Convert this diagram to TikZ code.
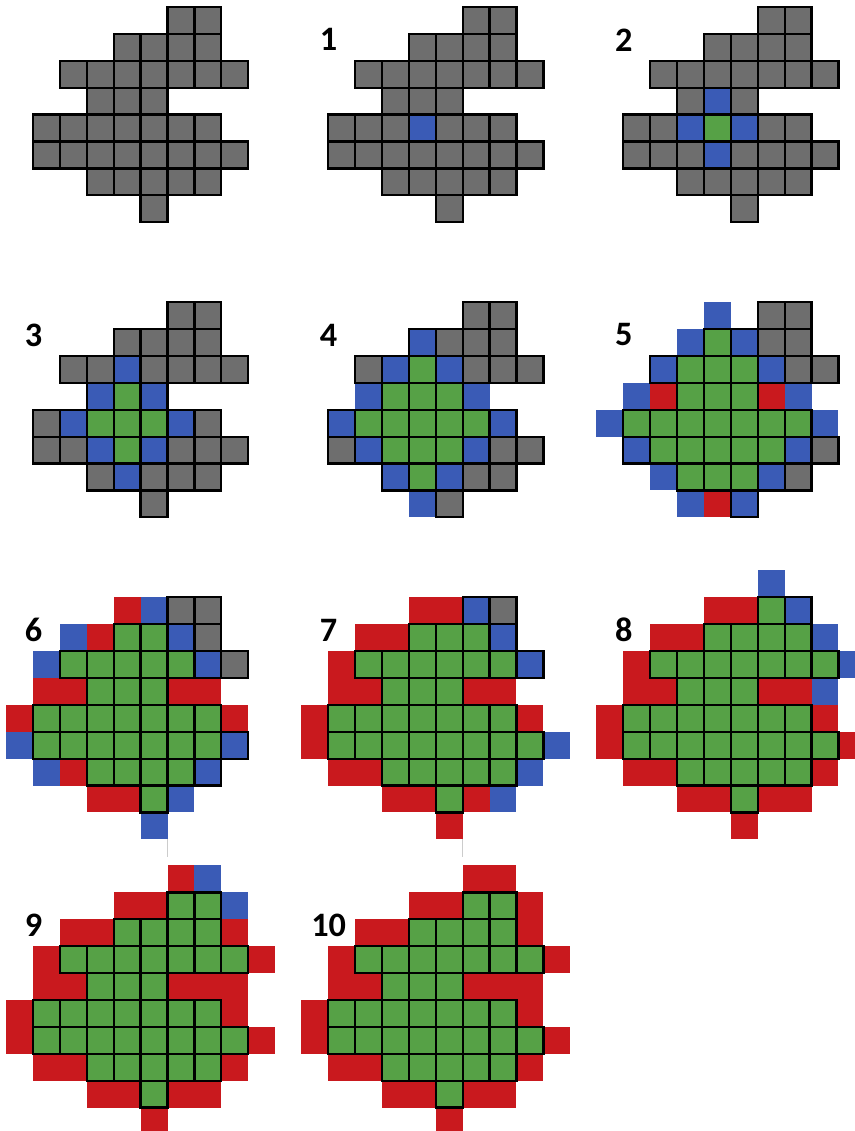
\documentclass[tikz,border=0pt]{standalone}
\usepackage{fontspec}
\setsansfont{Carlito}
\usepackage{tikz}
\definecolor{cellgrey}{HTML}{6E6E6E}
\definecolor{cellblue}{HTML}{3A5BB6}
\definecolor{cellgreen}{HTML}{56A146}
\definecolor{cellred}{HTML}{C9191E}

% row/col/step at which the cell enters the front
\def\shapecells{0/5/7, 0/6/8,
  1/3/4, 1/4/5, 1/5/6, 1/6/7,
  2/1/5, 2/2/4, 2/3/3, 2/4/4, 2/5/5, 2/6/6, 2/7/7,
  3/2/3, 3/3/2, 3/4/3,
  4/0/4, 4/1/3, 4/2/2, 4/3/1, 4/4/2, 4/5/3, 4/6/4,
  5/0/5, 5/1/4, 5/2/3, 5/3/2, 5/4/3, 5/5/4, 5/6/5, 5/7/6,
  6/2/4, 6/3/3, 6/4/4, 6/5/5, 6/6/6,
  7/4/5}
\def\outercells{-1/5/8, -1/6/9,
  0/3/5, 0/4/6, 0/7/9,
  1/1/6, 1/2/5, 1/7/8,
  2/0/6, 2/8/8,
  3/0/5, 3/1/4, 3/5/4, 3/6/5, 3/7/8,
  4/-1/5, 4/7/5,
  5/-1/6, 5/8/7,
  6/0/6, 6/1/5, 6/7/7,
  7/2/5, 7/3/4, 7/5/6, 7/6/7,
  8/4/6}

\newcommand{\floodpanel}[3]{%
  \begin{scope}[shift={(#2,#3)}]
    % cells around the shape, no border
    \foreach \r/\c/\b in \outercells {
      \ifnum\b<#1 \fill[cellred] (\c,-\r) rectangle ++(1,-1);
      \else\ifnum\b=#1 \fill[cellblue] (\c,-\r) rectangle ++(1,-1); \fi\fi
    }
    % cells of the shape
    \foreach \r/\c/\b in \shapecells {
      \ifnum\b<#1 \def\cellcol{cellgreen}%
      \else\ifnum\b=#1 \def\cellcol{cellblue}%
      \else \def\cellcol{cellgrey}\fi\fi
      \filldraw[cell, fill=\cellcol] (\c,-\r) rectangle ++(1,-1);
    }
    \ifnum#1>0 \node[panellabel] (label#1) at (0.02,-1.22) {#1};\fi
  \end{scope}
}

\begin{document}
\begin{tikzpicture}[
  x=5.38mm, y=5.38mm,
  cell/.style={draw=black, line width=1.3pt},
  panellabel/.style={font=\sffamily\bfseries\fontsize{19.5}{19.5}\selectfont, inner sep=0pt},
  gapline/.style={draw=black!20, line width=0.6pt},
]
\useasboundingbox (0,0) rectangle (31.75,-42.04);

\foreach \n in {0,...,10} {
  \pgfmathtruncatemacro{\pc}{mod(\n,3)}
  \pgfmathtruncatemacro{\pr}{div(\n,3)}
  \floodpanel{\n}{1.227+10.97*\pc}{-0.26-10.97*\pr}
}

% faint marks between the last two rows
\draw[gapline] (6.227,-31.2) -- (6.227,-31.86);
\draw[gapline] (17.197,-31.2) -- (17.197,-31.86);

\end{tikzpicture}
\end{document}
